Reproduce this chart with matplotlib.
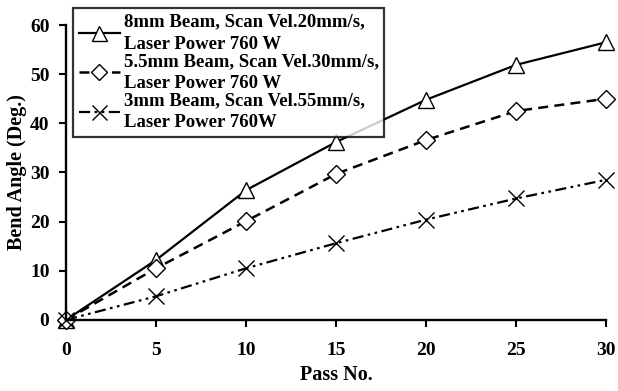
import numpy as np
import matplotlib
matplotlib.use("Agg")
import matplotlib.pyplot as plt

plt.rcParams["font.family"] = ["Liberation Serif", "DejaVu Serif"]
plt.rcParams["font.weight"] = "bold"

# bend angle vs number of passes for three beam settings
passes = [0, 5, 10, 15, 20, 25, 30]
angle_8mm = [0, 12.2, 26.4, 36.2, 44.8, 51.9, 56.5]
angle_5p5mm = [0, 10.5, 20.1, 29.7, 36.6, 42.5, 45.0]
angle_3mm = [0, 4.8, 10.5, 15.6, 20.4, 24.7, 28.5]

labels = ["8mm Beam, Scan Vel.20mm/s,\nLaser Power 760 W",
          "5.5mm Beam, Scan Vel.30mm/s,\nLaser Power 760 W",
          "3mm Beam, Scan Vel.55mm/s,\nLaser Power 760W"]

fig = plt.figure(figsize=(6.18, 3.91), dpi=100)
ax = fig.add_axes([0.107, 0.182, 0.874, 0.754])

ax.plot(passes, angle_8mm, color="black", lw=1.6, ls="-", marker="^",
        ms=12, mfc="white", mec="black", mew=1.0, clip_on=False, label=labels[0])
ax.plot(passes, angle_5p5mm, color="black", lw=1.8, ls=(0, (4, 2.5)), marker="D",
        ms=9, mfc="white", mec="black", mew=1.0, clip_on=False, label=labels[1])
ax.plot(passes, angle_3mm, color="black", lw=1.6, ls=(0, (5, 2, 1.2, 2, 1.2, 2)),
        marker="x", ms=12, mec="black", mew=1.0, clip_on=False, label=labels[2])

ax.set_xlim(0, 30)
ax.set_ylim(0, 60)
ax.set_xticks([0, 5, 10, 15, 20, 25, 30])
ax.set_yticks([0, 10, 20, 30, 40, 50, 60])
for s in ["top", "right"]:
    ax.spines[s].set_visible(False)
for s in ["left", "bottom"]:
    ax.spines[s].set_linewidth(1.7)
ax.tick_params(axis="x", direction="out", length=5, width=1.5, pad=11, labelsize=14)
ax.tick_params(axis="y", direction="out", length=5, width=1.5, pad=7, labelsize=14)

ax.set_xlabel("Pass No.", fontsize=14.5, fontweight="bold", labelpad=4)
ax.set_ylabel("Bend Angle (Deg.)", fontsize=14.5, fontweight="bold", labelpad=2)

leg = ax.legend(loc="upper left", bbox_to_anchor=(73 / 618, 1 - 8 / 391),
                bbox_transform=fig.transFigure, fontsize=13.5, frameon=True,
                fancybox=False, edgecolor="black", handlelength=2.2,
                handletextpad=0.2, labelspacing=0.0, borderpad=0.3,
                borderaxespad=0, markerscale=0.9)
leg.get_frame().set_linewidth(1.6)
for t in leg.get_texts():
    t.set_linespacing(1.4)

fig.savefig("out.png", dpi=100)
